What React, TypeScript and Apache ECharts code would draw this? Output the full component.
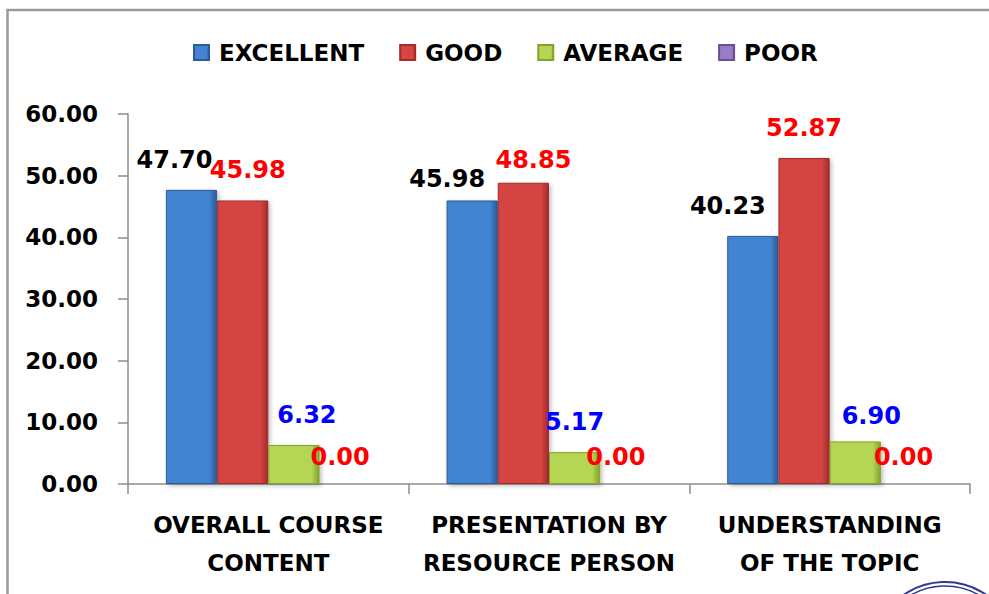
import React, { useEffect, useRef } from "react";
import * as echarts from "echarts";

const categories = [
  "OVERALL COURSE\nCONTENT",
  "PRESENTATION BY\nRESOURCE PERSON",
  "UNDERSTANDING\nOF THE TOPIC",
];
const seriesNames = ["EXCELLENT", "GOOD", "AVERAGE", "POOR"];
const excellent = [47.7, 45.98, 40.23];
const good = [45.98, 48.85, 52.87];
const average = [6.32, 5.17, 6.9];
const poor = [0, 0, 0];
const yTicks = { min: 0, max: 60, interval: 10 };

// label nudges (style only) per series per category
const labelOffsets = [
  [[-17, 0], [-25, 9], [-25, 0]],
  [[5, 0], [10, 7], [0, 0]],
  [[13, 0], [0, 0], [16, 5]],
  [[-5, 3], [-10, 3], [-3, 3]],
];
const labelColors = ["#000000", "#ff0000", "#0000ff", "#ff0000"];
const barColors = [
  ["#4383d2", "#2b5a98"],
  ["#d44543", "#a32b2a"],
  ["#b5d555", "#83a32c"],
  ["#9a7cc6", "#6a4e96"],
];
const legendColors = ["#3a76c2", "#c53b3a", "#8fb03a", "#7b5ea7"];

const FONT = "DejaVu Sans";

export default function App() {
  const ref = useRef<HTMLDivElement>(null);
  useEffect(() => {
    if (!ref.current) return;
    const chart = echarts.init(ref.current, null, { renderer: "svg" });
    const values = [excellent, good, average, poor];
    const series = seriesNames.map((name, si) => ({
      name,
      type: "bar",
      barGap: "0%",
      barCategoryGap: "27%",
      color: legendColors[si],
      itemStyle: {
        color: new echarts.graphic.LinearGradient(0, 0, 1, 0, [
          { offset: 0, color: barColors[si][0] },
          { offset: 0.85, color: barColors[si][0] },
          { offset: 1, color: barColors[si][1] },
        ]),
        borderColor: barColors[si][1],
        borderWidth: 1,
        shadowColor: "rgba(0,0,0,0.25)",
        shadowBlur: 4,
        shadowOffsetX: 2,
        shadowOffsetY: 2,
      },
      data: values[si].map((v, ci) => ({
        value: v,
        label: { offset: labelOffsets[si][ci] },
      })),
      label: {
        show: true,
        position: "top",
        distance: 18,
        formatter: (p: any) => Number(p.value).toFixed(2),
        color: labelColors[si],
        fontFamily: FONT,
        fontWeight: "bold",
        fontSize: 24,
      },
    }));

    chart.setOption({
      animation: false,
      backgroundColor: "#ffffff",
      legend: {
        top: 36,
        left: 188,
        itemGap: 35,
        itemWidth: 15,
        itemHeight: 15,
        icon: "rect",
        data: seriesNames,
        textStyle: {
          fontFamily: FONT,
          fontWeight: "bold",
          fontSize: 23,
          color: "#000",
          padding: [0, 0, 0, 5],
        },
      },
      grid: { left: 128, right: 19, top: 114, bottom: 110, containLabel: false },
      xAxis: {
        type: "category",
        data: categories,
        axisLine: { show: true, lineStyle: { color: "#8c8c8c", width: 1.5 } },
        axisTick: { show: true, length: 10, alignWithLabel: false, lineStyle: { color: "#8c8c8c", width: 1.5 } },
        axisLabel: {
          margin: 22,
          fontFamily: FONT,
          fontWeight: "bold",
          fontSize: 23,
          lineHeight: 38,
          color: "#000",
          interval: 0,
        },
      },
      yAxis: {
        type: "value",
        min: yTicks.min,
        max: yTicks.max,
        interval: yTicks.interval,
        splitLine: { show: false },
        axisLine: { show: true, lineStyle: { color: "#8c8c8c", width: 1.5 } },
        axisTick: { show: true, length: 10, inside: false, lineStyle: { color: "#8c8c8c", width: 1.5 } },
        axisLabel: {
          margin: 30,
          formatter: (v: number) => v.toFixed(2),
          fontFamily: FONT,
          fontWeight: "bold",
          fontSize: 23,
          color: "#000",
        },
      },
      graphic: [
        {
          type: "polyline",
          silent: true,
          shape: { points: [[7.5, 700], [7.5, 10], [1100, 10]] },
          style: { stroke: "#9a9a9a", lineWidth: 2.5, fill: null },
        },
        {
          type: "circle",
          silent: true,
          shape: { cx: 945, cy: 655, r: 73 },
          style: { stroke: "#2e3b8f", lineWidth: 2, fill: null },
        },
        {
          type: "circle",
          silent: true,
          shape: { cx: 945, cy: 655, r: 69 },
          style: { stroke: "#2e3b8f", lineWidth: 1.5, fill: null },
        },
      ],
      series,
    });
    return () => chart.dispose();
  }, []);
  return (
    <div
      ref={ref}
      style={{ position: "fixed", left: 0, top: 0, width: 989, height: 594 }}
    />
  );
}
